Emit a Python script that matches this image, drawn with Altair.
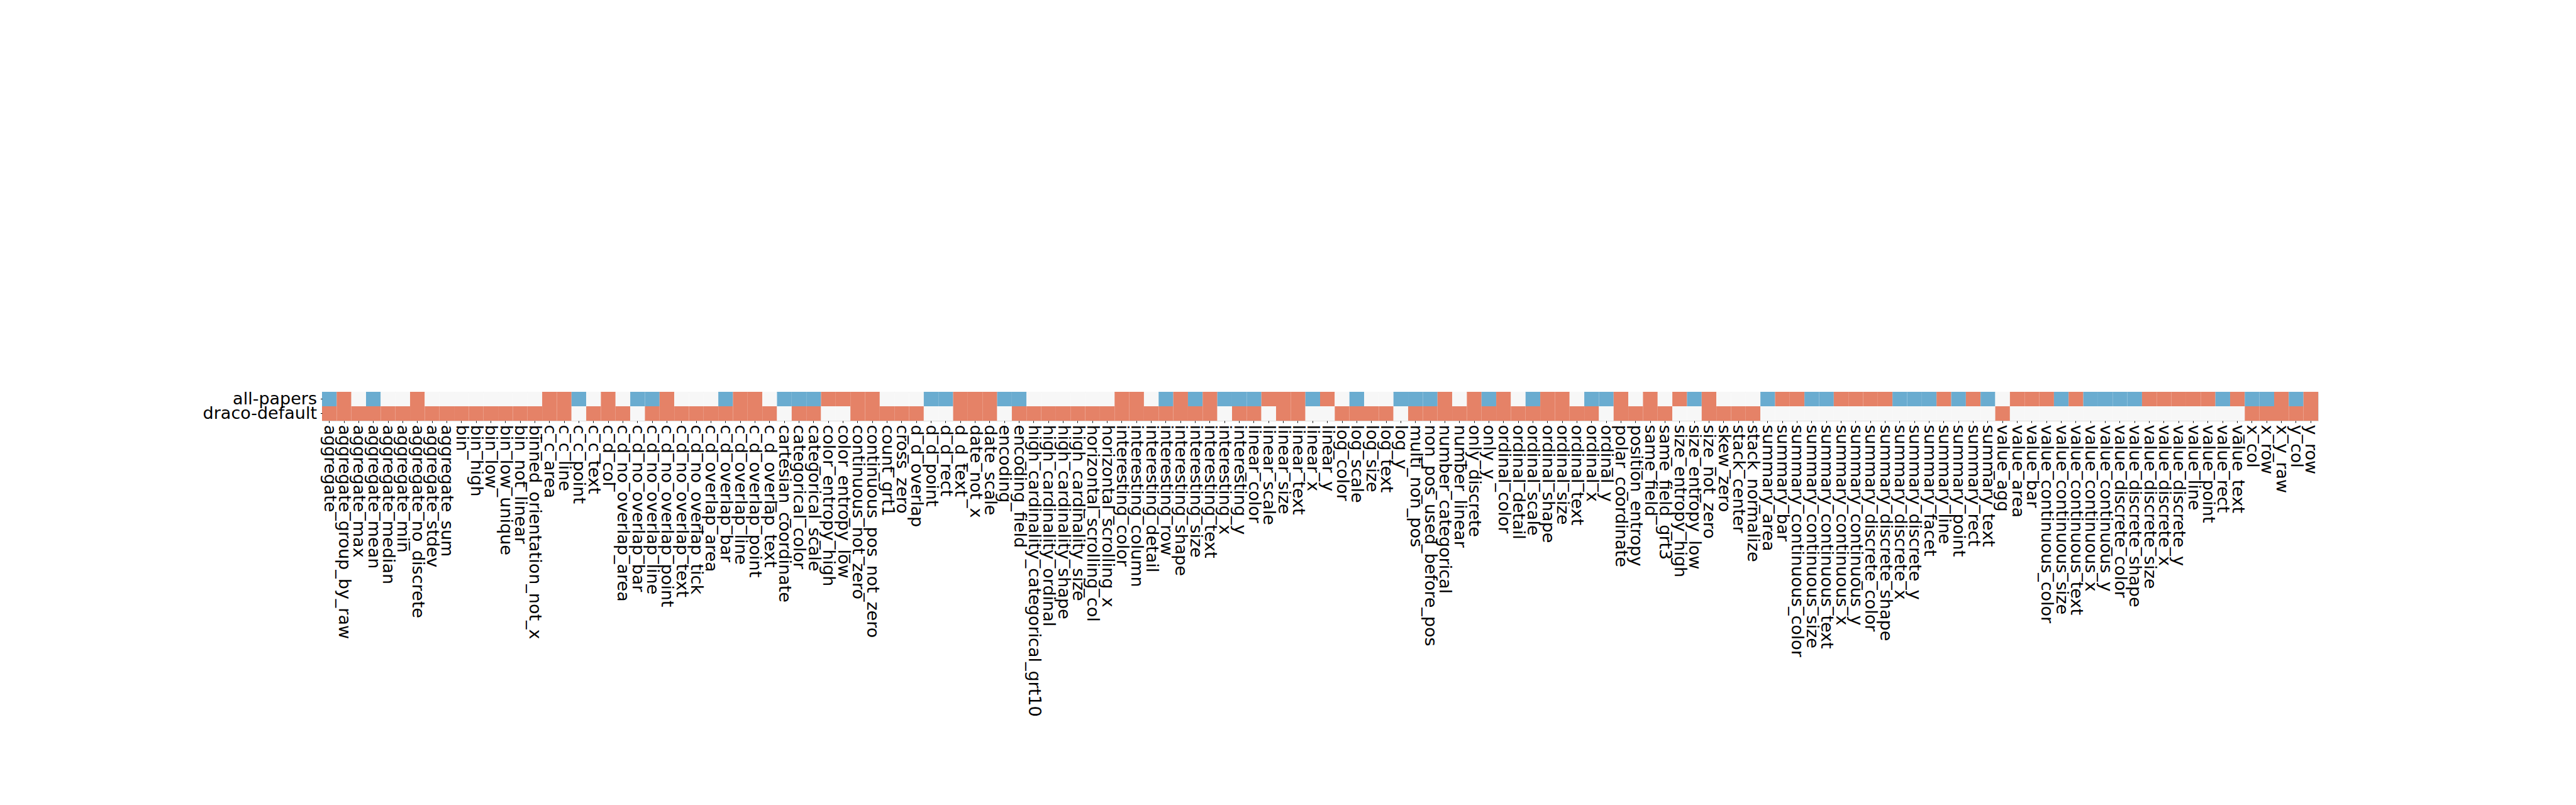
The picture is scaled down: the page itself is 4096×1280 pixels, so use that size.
import altair as alt
import pandas as pd

features = [
    "aggregate", "aggregate_group_by_raw", "aggregate_max", "aggregate_mean", "aggregate_median",
    "aggregate_min", "aggregate_no_discrete", "aggregate_stdev", "aggregate_sum", "bin",
    "bin_high", "bin_low", "bin_low_unique", "bin_not_linear", "binned_orientation_not_x",
    "c_c_area", "c_c_line", "c_c_point", "c_c_text", "c_d_col",
    "c_d_no_overlap_area", "c_d_no_overlap_bar", "c_d_no_overlap_line", "c_d_no_overlap_point", "c_d_no_overlap_text",
    "c_d_no_overlap_tick", "c_d_overlap_area", "c_d_overlap_bar", "c_d_overlap_line", "c_d_overlap_point",
    "c_d_overlap_text", "cartesian_coordinate", "categorical_color", "categorical_scale", "color_entropy_high",
    "color_entropy_low", "continuous_not_zero", "continuous_pos_not_zero", "count_grt1", "cross_zero",
    "d_d_overlap", "d_d_point", "d_d_rect", "d_d_text", "date_not_x",
    "date_scale", "encoding", "encoding_field", "high_cardinality_categorical_grt10", "high_cardinality_ordinal",
    "high_cardinality_shape", "high_cardinality_size", "horizontal_scrolling_col", "horizontal_scrolling_x", "interesting_color",
    "interesting_column", "interesting_detail", "interesting_row", "interesting_shape", "interesting_size",
    "interesting_text", "interesting_x", "interesting_y", "linear_color", "linear_scale",
    "linear_size", "linear_text", "linear_x", "linear_y", "log_color",
    "log_scale", "log_size", "log_text", "log_y", "multi_non_pos",
    "non_pos_used_before_pos", "number_categorical", "number_linear", "only_discrete", "only_y",
    "ordinal_color", "ordinal_detail", "ordinal_scale", "ordinal_shape", "ordinal_size",
    "ordinal_text", "ordinal_x", "ordinal_y", "polar_coordinate", "position_entropy",
    "same_field", "same_field_grt3", "size_entropy_high", "size_entropy_low", "size_not_zero",
    "skew_zero", "stack_center", "stack_normalize", "summary_area", "summary_bar",
    "summary_continuous_color", "summary_continuous_size", "summary_continuous_text", "summary_continuous_x", "summary_continuous_y",
    "summary_discrete_color", "summary_discrete_shape", "summary_discrete_x", "summary_discrete_y", "summary_facet",
    "summary_line", "summary_point", "summary_rect", "summary_text", "value_agg",
    "value_area", "value_bar", "value_continuous_color", "value_continuous_size", "value_continuous_text",
    "value_continuous_x", "value_continuous_y", "value_discrete_color", "value_discrete_shape", "value_discrete_size",
    "value_discrete_x", "value_discrete_y", "value_line", "value_point", "value_rect",
    "value_text", "x_col", "x_row", "x_y_raw", "y_col",
    "y_row",
]

sources = ["all-papers", "draco-default"]

# -1 = blue, 0 = neutral, 1 = red
all_papers = [
    -1, 1, 0, -1, 0,
    0, 1, 0, 0, 0,
    0, 0, 0, 0, 0,
    1, 1, -1, 0, 1,
    0, -1, -1, 1, 0,
    0, 0, -1, 1, 1,
    0, -1, -1, -1, 1,
    1, 1, 1, 0, 0,
    0, -1, -1, 1, 1,
    1, -1, -1, 0, 0,
    0, 0, 0, 0, 1,
    1, 0, -1, 1, -1,
    1, -1, -1, -1, 1,
    1, 1, -1, 1, 0,
    -1, 0, 0, -1, -1,
    -1, 1, 0, 1, -1,
    1, 0, -1, 1, 1,
    0, -1, -1, 1, 0,
    1, 0, 1, -1, 1,
    0, 0, 0, -1, 1,
    1, -1, -1, 1, 1,
    1, 1, -1, -1, -1,
    1, -1, 1, -1, 0,
    1, 1, 1, -1, 1,
    -1, -1, -1, -1, 1,
    1, 1, 1, 1, -1,
    1, -1, -1, 1, -1,
    1,
]

draco_default = [
    1, 1, 1, 1, 1,
    1, 1, 1, 1, 1,
    1, 1, 1, 1, 1,
    1, 1, 0, 1, 1,
    1, 0, 1, 1, 1,
    1, 1, 1, 1, 1,
    1, 0, 1, 1, 0,
    0, 1, 1, 1, 1,
    1, 0, 0, 1, 1,
    1, 0, 1, 1, 1,
    1, 1, 1, 1, 1,
    1, 1, 1, 1, 1,
    1, 0, 1, 1, 0,
    1, 1, 0, 0, 1,
    1, 1, 1, 0, 1,
    1, 1, 1, 1, 1,
    1, 1, 1, 1, 1,
    1, 1, 0, 1, 1,
    1, 1, 0, 0, 1,
    1, 1, 1, 0, 0,
    0, 0, 0, 0, 0,
    0, 0, 0, 0, 0,
    0, 0, 0, 0, 1,
    0, 0, 0, 0, 0,
    0, 0, 0, 0, 0,
    0, 0, 0, 0, 0,
    0, 1, 1, 1, 1,
    1,
]

value_domain = [-1, 0, 1]
value_colors = ["#6aacd0", "#f7f7f7", "#e58267"]

rows = []
for src, vals in zip(sources, [all_papers, draco_default]):
    for f, v in zip(features, vals):
        rows.append({"feature": f, "source": src, "value": v})
df = pd.DataFrame(rows)

chart = (
    alt.Chart(df)
    .mark_rect(strokeWidth=0)
    .encode(
        x=alt.X(
            "feature:N",
            sort=features,
            scale=alt.Scale(paddingInner=0, paddingOuter=0),
            axis=alt.Axis(
                title=None,
                labelAngle=90,
                labelFontSize=27,
                labelFont="DejaVu Sans",
                labelColor="black",
                labelLimit=0,
                labelOverlap=False,
                labelPadding=3,
                tickSize=3,
                tickColor="black",
                tickWidth=1,
                domain=False,
                grid=False,
            ),
        ),
        y=alt.Y(
            "source:N",
            sort=sources,
            scale=alt.Scale(paddingInner=0, paddingOuter=0),
            axis=alt.Axis(
                title=None,
                labelFontSize=27,
                labelFont="DejaVu Sans",
                labelColor="black",
                labelLimit=0,
                labelPadding=6,
                tickSize=2.5,
                tickColor="black",
                tickWidth=1,
                domain=False,
                grid=False,
            ),
        ),
        color=alt.Color(
            "value:O",
            scale=alt.Scale(domain=value_domain, range=value_colors),
            legend=None,
        ),
    )
    .properties(
        width=3174,
        height=46,
        autosize=alt.AutoSizeParams(type="none"),
        padding={"left": 504, "top": 615, "right": 20, "bottom": 600},
    )
    .configure_view(stroke="black", strokeWidth=1.3)
    .configure(background="white")
)

chart.save("out.html", embed_options={"renderer": "svg", "actions": False})
